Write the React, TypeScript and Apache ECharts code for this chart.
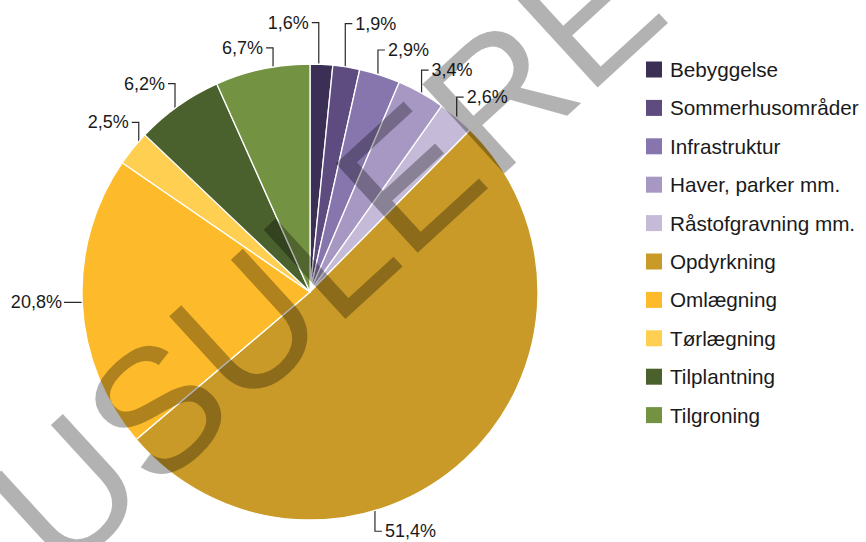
import React, { useEffect, useRef } from 'react';
import * as echarts from 'echarts';

const categories = [
  'Bebyggelse',
  'Sommerhusområder',
  'Infrastruktur',
  'Haver, parker mm.',
  'Råstofgravning mm.',
  'Opdyrkning',
  'Omlægning',
  'Tørlægning',
  'Tilplantning',
  'Tilgroning',
];
const shares = [1.6, 1.9, 2.9, 3.4, 2.6, 51.4, 20.8, 2.5, 6.2, 6.7];
const colors = [
  '#3b2f56',
  '#5e4b7f',
  '#8775ae',
  '#a697c3',
  '#c5bbd8',
  '#c99a27',
  '#fdbb2b',
  '#fecf50',
  '#4a612e',
  '#739343',
];

// leader-line layout per slice (style only): direction, vertical length,
// side of the label, anchor radius ratio and angular shift from the slice middle
const leaders: { dir: string; len: number; side?: string; ratio: number; shift: number }[] = [
  { dir: 'up', len: 49, side: 'left', ratio: 0.967, shift: -0.6 },
  { dir: 'up', len: 50, side: 'right', ratio: 0.97, shift: 0 },
  { dir: 'up', len: 38, side: 'right', ratio: 0.943, shift: 0.6 },
  { dir: 'up', len: 38, side: 'right', ratio: 0.943, shift: 2.1 },
  { dir: 'up', len: 34, side: 'right', ratio: 0.955, shift: 2.4 },
  { dir: 'down', len: 35, side: 'right', ratio: 0.94, shift: 25.2 },
  { dir: 'left', len: 40, ratio: 0.905, shift: 0 },
  { dir: 'up', len: 37, side: 'left', ratio: 0.95, shift: -1.3 },
  { dir: 'up', len: 36, side: 'left', ratio: 0.96, shift: -2.8 },
  { dir: 'up', len: 40, side: 'left', ratio: 0.91, shift: 1.8 },
];

const CX = 310;
const CY = 292;
const R = 228;

function anchorPoint(i: number): [number, number] {
  const total = shares.reduce((a, b) => a + b, 0);
  let cum = 0;
  for (let k = 0; k < i; k++) cum += shares[k];
  const cfg = leaders[i];
  const deg = ((cum + shares[i] / 2) / total) * 360 + cfg.shift;
  const rad = (deg * Math.PI) / 180;
  const r = R * cfg.ratio;
  return [CX + r * Math.sin(rad), CY - r * Math.cos(rad)];
}

export default function App() {
  const ref = useRef<HTMLDivElement>(null);
  useEffect(() => {
    document.body.style.margin = '0';
    if (!ref.current) return;
    const chart = echarts.init(ref.current, undefined, { renderer: 'svg' });
    const font = '"Liberation Sans", Arial, sans-serif';
    chart.setOption({
      animation: false,
      backgroundColor: '#ffffff',
      legend: {
        orient: 'vertical',
        left: 641,
        top: 54,
        itemWidth: 16,
        itemHeight: 16,
        itemGap: 17.4,
        icon: 'rect',
        data: categories,
        itemStyle: { borderWidth: 0 },
        textStyle: { fontFamily: font, fontSize: 20.7, color: '#1a1a1a', padding: [0, 0, 0, 3] },
      },
      series: [
        {
          type: 'pie',
          center: [CX, CY],
          radius: R,
          startAngle: 90,
          clockwise: true,
          avoidLabelOverlap: false,
          itemStyle: { borderColor: '#ffffff', borderWidth: 1.3 },
          emphasis: { disabled: true },
          label: {
            show: true,
            position: 'outside',
            fontFamily: font,
            fontSize: 18,
            color: '#1a1a1a',
            formatter: (p: any) => shares[p.dataIndex].toFixed(1).replace('.', ',') + '%',
          },
          labelLine: {
            show: true,
            length: 10,
            length2: 7,
            lineStyle: { color: '#2a2a2a', width: 1.2 },
          },
          labelLayout: (params: any) => {
            const i = params.dataIndex;
            const cfg = leaders[i];
            const [sx, sy] = anchorPoint(i);
            if (cfg.dir === 'left') {
              const ex = sx - cfg.len;
              return {
                x: ex - 2,
                y: sy,
                align: 'right',
                verticalAlign: 'middle',
                labelLinePoints: [
                  [sx, sy],
                  [ex + 1, sy],
                  [ex, sy],
                ],
              };
            }
            const ey = cfg.dir === 'up' ? sy - cfg.len : sy + cfg.len;
            const left = cfg.side === 'left';
            const hx = left ? sx - 7 : sx + 7;
            return {
              x: left ? hx - 3 : hx + 3,
              y: ey,
              align: left ? 'right' : 'left',
              verticalAlign: 'middle',
              labelLinePoints: [
                [sx, sy],
                [sx, ey],
                [hx, ey],
              ],
            };
          },
          data: categories.map((name, i) => ({
            name,
            value: shares[i],
            itemStyle: { color: colors[i] },
          })),
        },
      ],
      graphic: [
        {
          type: 'text',
          x: 326,
          y: 254,
          rotation: (42.5 * Math.PI) / 180,
          z: 100,
          silent: true,
          style: {
            text: 'USULERE',
            font: '176px "Liberation Sans", Arial, sans-serif',
            fill: 'rgba(0,0,0,0.3)',
            align: 'center',
            verticalAlign: 'middle',
          },
        },
      ],
    });
    return () => chart.dispose();
  }, []);
  return <div ref={ref} style={{ width: 866, height: 542 }} />;
}
